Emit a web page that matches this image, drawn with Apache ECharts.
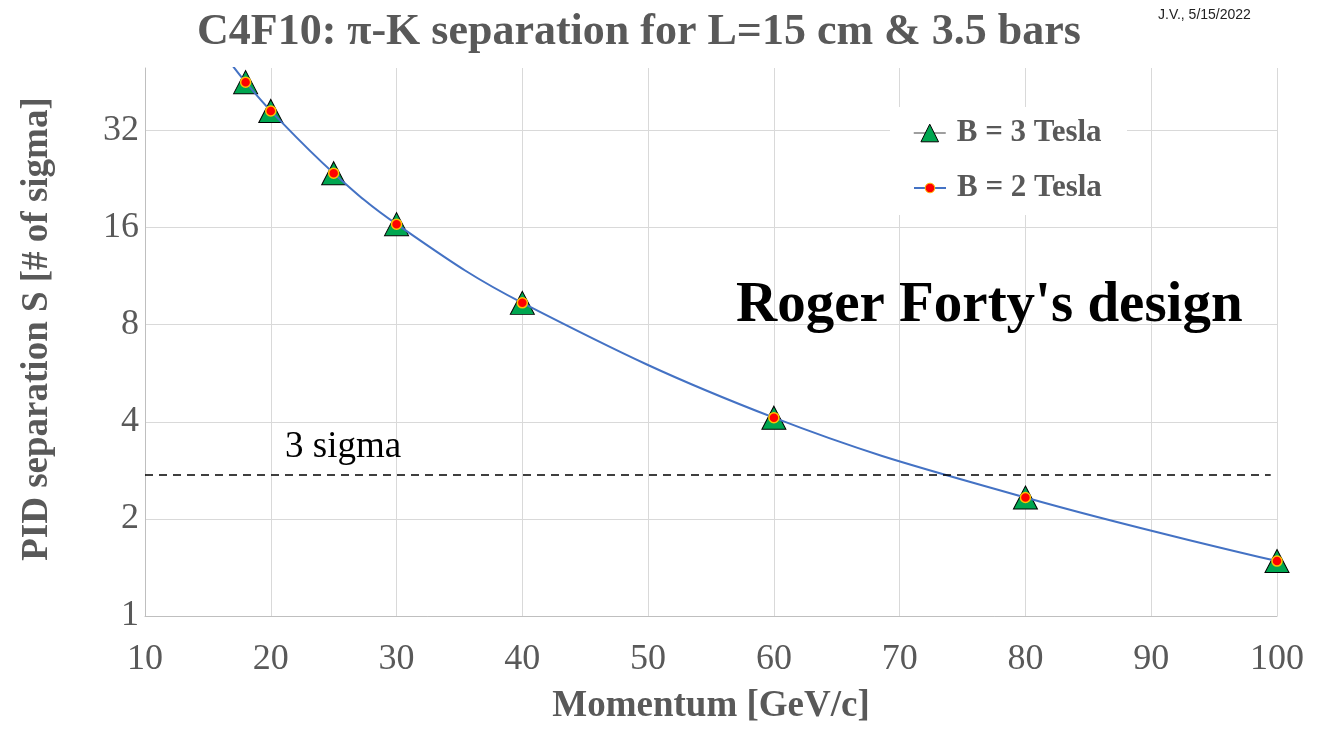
<!DOCTYPE html>
<html>
<head>
<meta charset="utf-8">
<title>C4F10 π-K separation</title>
<script src="https://cdn.jsdelivr.net/npm/echarts@6/dist/echarts.min.js"></script>
<style>
  html, body { margin: 0; padding: 0; background: #ffffff; }
  #chart { width: 1319px; height: 731px; }
</style>
</head>
<body>
<div id="chart"></div>
<script>
// Momentum points [GeV/c] and the π-K separation S [# of sigma] at each
const momentum = [18, 20, 25, 30, 40, 60, 80, 100];
const sepB3Tesla = [45.2, 36.8, 23.6, 16.4, 9.35, 4.12, 2.33, 1.48];
const sepB2Tesla = [45.2, 36.8, 23.6, 16.4, 9.35, 4.12, 2.33, 1.48];
// where the smooth B = 2 Tesla curve leaves the top of the plot
const curveStart = [16.9, 51.2];
// dashed reference level labelled "3 sigma"
const threeSigmaLevel = 2.74;
const threeSigmaFrom = 10;
const threeSigmaTo = 99.5;
// axis ranges
const xMin = 10, xMax = 100, xStep = 10;
const yMin = 1, yMax = 50;

const SERIF = '"Liberation Serif", "Times New Roman", serif';
const GREY = '#595959';

const chart = echarts.init(document.getElementById('chart'), null, { renderer: 'canvas' });

const b3Data = momentum.map((p, i) => [p, sepB3Tesla[i]]);
const b2Data = [{ value: curveStart, symbol: 'none' }].concat(
  momentum.map((p, i) => [p, sepB2Tesla[i]])
);

chart.setOption({
  animation: false,
  backgroundColor: '#ffffff',
  title: {
    text: 'C4F10: π-K separation for L=15 cm & 3.5 bars',
    left: 197,
    top: 9,
    padding: 0,
    textStyle: { fontFamily: SERIF, fontWeight: 'bold', fontSize: 44, lineHeight: 48, color: GREY }
  },
  grid: { left: 145, right: 42, top: 68, bottom: 108, containLabel: false },
  xAxis: {
    type: 'value',
    min: xMin, max: xMax, interval: xStep,
    name: 'Momentum [GeV/c]',
    nameLocation: 'middle',
    nameGap: 70,
    nameTextStyle: { fontFamily: SERIF, fontWeight: 'bold', fontSize: 37, lineHeight: 40, color: GREY },
    axisLine: { show: true, lineStyle: { color: '#bfbfbf', width: 1 } },
    axisTick: { show: false },
    axisLabel: { margin: 26, fontFamily: SERIF, fontSize: 36, lineHeight: 36, color: GREY },
    splitLine: { show: true, lineStyle: { color: '#d9d9d9', width: 1 } }
  },
  yAxis: {
    type: 'log',
    logBase: 2,
    min: yMin, max: yMax,
    axisLine: { show: true, lineStyle: { color: '#bfbfbf', width: 1 } },
    axisTick: { show: false },
    axisLabel: {
      margin: 6, fontFamily: SERIF, fontSize: 36, lineHeight: 36, color: GREY,
      showMaxLabel: false,
      formatter: v => {
        const e = Math.log2(v);
        return Math.abs(e - Math.round(e)) < 1e-6 ? String(Math.round(v)) : '';
      }
    },
    splitLine: { show: true, showMaxLine: false, lineStyle: { color: '#d9d9d9', width: 1 } }
  },
  legend: [
    {
      data: [{
        name: 'B = 3 Tesla',
        itemStyle: { borderWidth: 1, borderColor: '#000000' },
        lineStyle: { color: '#7f7f7f', width: 1.5, opacity: 1 }
      }],
      left: 913, top: 116, padding: 0,
      itemWidth: 32, itemHeight: 22,
      selectedMode: false, z: 5,
      textStyle: { fontFamily: SERIF, fontWeight: 'bold', fontSize: 31, lineHeight: 34, color: GREY, padding: [0, 0, 0, 6] }
    },
    {
      data: [{ name: 'B = 2 Tesla', itemStyle: { borderWidth: 1 } }],
      left: 913, top: 171, padding: 0,
      itemWidth: 32, itemHeight: 12,
      selectedMode: false, z: 5,
      textStyle: { fontFamily: SERIF, fontWeight: 'bold', fontSize: 31, lineHeight: 34, color: GREY, padding: [0, 0, 0, 6] }
    }
  ],
  graphic: [
    // white panel behind the legend
    { type: 'rect', z: 1, silent: true, shape: { x: 890, y: 107, width: 237, height: 108 }, style: { fill: '#ffffff' } },
    {
      type: 'text', z: 10, silent: true, x: 37, y: 329, rotation: Math.PI / 2,
      style: { text: 'PID separation S [# of sigma]', fill: GREY, align: 'center', verticalAlign: 'middle',
               font: 'bold 37px ' + SERIF }
    },
    {
      type: 'text', z: 10, silent: true, x: 285, y: 447,
      style: { text: '3 sigma', fill: '#000000', align: 'left', verticalAlign: 'middle', font: '37px ' + SERIF }
    },
    {
      type: 'text', z: 10, silent: true, x: 736, y: 306,
      style: { text: "Roger Forty's design", fill: '#000000', align: 'left', verticalAlign: 'middle',
               font: 'bold 57px ' + SERIF }
    },
    {
      type: 'text', z: 10, silent: true, x: 1158, y: 15,
      style: { text: 'J.V., 5/15/2022', fill: '#222222', align: 'left', verticalAlign: 'middle',
               font: '14px "Liberation Sans", Arial, sans-serif' }
    }
  ],
  series: [
    {
      name: 'B = 3 Tesla',
      type: 'line',
      data: b3Data,
      symbol: 'triangle',
      symbolSize: [24, 23],
      showSymbol: true,
      itemStyle: { color: '#00a650', borderColor: '#000000', borderWidth: 1 },
      lineStyle: { width: 0, opacity: 0 },
      z: 2,
      markLine: {
        silent: true,
        symbol: ['none', 'none'],
        label: { show: false },
        lineStyle: { color: '#000000', width: 1.5, type: [8, 6] },
        data: [[{ coord: [threeSigmaFrom, threeSigmaLevel] }, { coord: [threeSigmaTo, threeSigmaLevel] }]]
      }
    },
    {
      name: 'B = 2 Tesla',
      type: 'line',
      data: b2Data,
      smooth: 0.4,
      symbol: 'circle',
      symbolSize: 10,
      showSymbol: true,
      itemStyle: { color: '#ff0000', borderColor: '#ffc000', borderWidth: 1.5 },
      lineStyle: { color: '#4472c4', width: 2 },
      z: 3
    }
  ]
});
</script>
</body>
</html>
